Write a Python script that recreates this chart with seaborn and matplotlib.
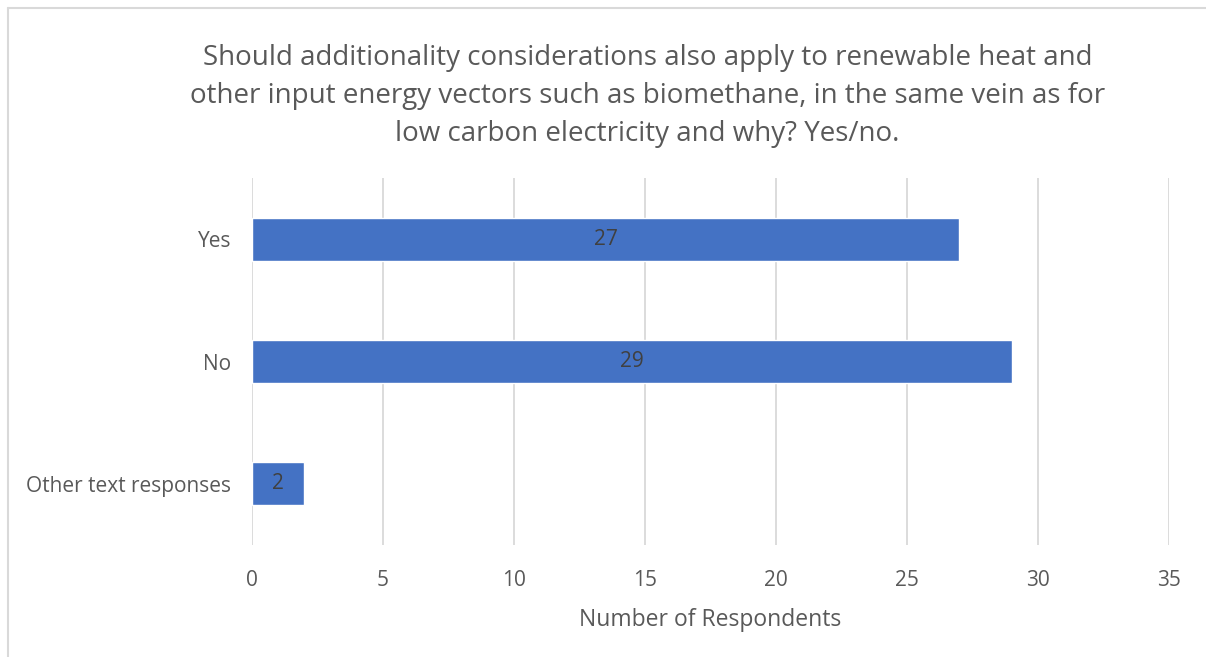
import numpy as np
import pandas as pd
import seaborn as sns
import matplotlib.pyplot as plt
from matplotlib.lines import Line2D

categories = ["Yes", "No", "Other text responses"]
counts = [27, 29, 2]
x_ticks = [0, 5, 10, 15, 20, 25, 30, 35]

title = ("Should additionality considerations also apply to renewable heat and\n"
         "other input energy vectors such as biomethane, in the same vein as for\n"
         "low carbon electricity and why? Yes/no.")

df = pd.DataFrame({"Response": categories, "Count": counts})

sns.set_style("white")
plt.rcParams['font.family'] = ['Open Sans', 'DejaVu Sans']
text_color = '#595959'

fig = plt.figure(figsize=(12.06, 6.57), dpi=100)
ax = fig.add_axes([252 / 1206, 1 - 545 / 657, (1169 - 252) / 1206, (545 - 178) / 657])

sns.barplot(df, x="Count", y="Response", color="#4472C4", saturation=1.0,
            width=0.35, orient="h", ax=ax, zorder=3)

for p, v in zip(ax.patches, counts):
    ax.text(p.get_x() + p.get_width() / 2, p.get_y() + p.get_height() / 2, str(v),
            ha='center', va='center', fontsize=15, color='#404040', zorder=4)

ax.set_xlim(0, 35)
ax.set_ylim(2.5, -0.5)
ax.set_xticks(x_ticks)
ax.grid(axis='x', color='#D9D9D9', linewidth=1.3, zorder=0)
for s in ax.spines.values():
    s.set_visible(False)
ax.tick_params(axis='both', length=0, labelsize=15, labelcolor=text_color)
ax.tick_params(axis='x', pad=18)
ax.tick_params(axis='y', pad=15)
ax.set_ylabel("")
ax.set_xlabel("Number of Respondents", fontsize=16.5, color=text_color, labelpad=12)

fig.text(0.537, 1 - 96 / 657, title, ha='center', va='center', fontsize=20,
         color=text_color, linespacing=1.5)

# chart frame: only top and left edges visible
fig.lines.append(Line2D([8 / 1206, 8 / 1206], [0, 1 - 8 / 657], transform=fig.transFigure,
                        color='#D9D9D9', linewidth=1.5))
fig.lines.append(Line2D([8 / 1206, 1], [1 - 8 / 657, 1 - 8 / 657], transform=fig.transFigure,
                        color='#D9D9D9', linewidth=1.5))

plt.savefig("out.png", dpi=100)
